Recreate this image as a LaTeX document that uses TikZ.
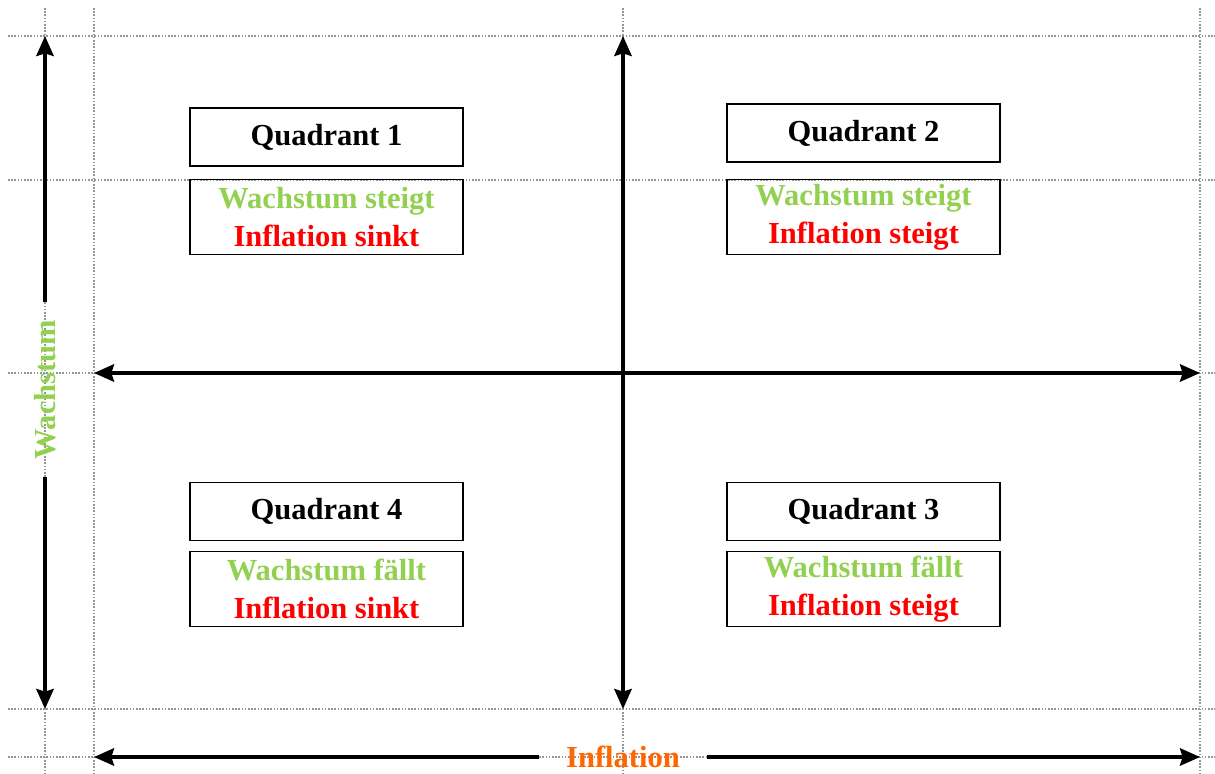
\documentclass[tikz,border=0pt]{standalone}
\usepackage{fontspec}
\setmainfont{Liberation Serif}
\usetikzlibrary{arrows.meta}
\definecolor{wgreen}{RGB}{146,208,80}
\definecolor{ired}{RGB}{255,0,0}
\definecolor{iorange}{RGB}{255,102,0}
\definecolor{gridgray}{RGB}{150,150,150}
\newcommand{\diafont}{\bfseries\fontsize{22.9}{28.5}\selectfont}
\begin{document}
\begin{tikzpicture}[x=0.75pt,y=-0.75pt,
  gridline/.style={gridgray, line width=1pt, dash pattern=on 1.2pt off 1.2pt},
  tipshape/.tip={Stealth[length=15pt,width=13pt,inset=2pt]},
  axis/.style={line width=2.6pt, -tipshape},
  bothaxis/.style={line width=2.6pt, tipshape-tipshape},
  titlebox/.style={draw, line width=0.9pt, minimum width=204.75pt, minimum height=43.5pt, inner sep=0pt, font=\diafont},
  textbox/.style={draw, line width=0.9pt, minimum width=204.75pt, minimum height=56pt, inner sep=0pt, align=center, font=\diafont},
  axlabel/.style={inner sep=0pt, font=\diafont}
]
\useasboundingbox (0,0) rectangle (1215,774);
% dotted grid
\foreach \y in {36,180,373,709,757} \draw[gridline] (8,\y) -- (1215,\y);
\foreach \x in {45,94,623,1200} \draw[gridline] (\x,8) -- (\x,774);
% coordinates
\coordinate (wtop) at (45,36);
\coordinate (wbot) at (45,709);
\coordinate (vtop) at (623,36);
\coordinate (vbot) at (623,709);
\coordinate (hleft) at (94,373);
\coordinate (hright) at (1200,373);
\coordinate (bleft) at (94,757);
\coordinate (bright) at (1200,757);
% axis labels
\node[axlabel, wgreen, rotate=90, minimum width=131.25pt] (wlab) at (45,389.5) {Wachstum};
\node[axlabel, iorange, minimum width=125.25pt] (ilab) at (623,757) {Inflation};
% arrows
\draw[axis] (wlab.east) -- (wtop);
\draw[axis] (wlab.west) -- (wbot);
\draw[axis] (ilab.west) -- (bleft);
\draw[axis] (ilab.east) -- (bright);
\draw[bothaxis] (vtop) -- (vbot);
\draw[bothaxis] (hleft) -- (hright);
% boxes
\node[titlebox] (q1) at (326.5,137) {Quadrant 1};
\node[textbox] (t1) at (326.5,217) {\textcolor{wgreen}{Wachstum steigt}\\\textcolor{ired}{Inflation sinkt}};
\node[titlebox] (q2) at (863.5,133) {Quadrant 2};
\node[textbox] (t2) at (863.5,217) {\textcolor{wgreen}{Wachstum steigt}\\\textcolor{ired}{Inflation steigt}};
\node[titlebox] (q4) at (326.5,511.5) {Quadrant 4};
\node[textbox] (t4) at (326.5,589) {\textcolor{wgreen}{Wachstum fällt}\\\textcolor{ired}{Inflation sinkt}};
\node[titlebox] (q3) at (863.5,511.5) {Quadrant 3};
\node[textbox] (t3) at (863.5,589) {\textcolor{wgreen}{Wachstum fällt}\\\textcolor{ired}{Inflation steigt}};
\end{tikzpicture}
\end{document}
